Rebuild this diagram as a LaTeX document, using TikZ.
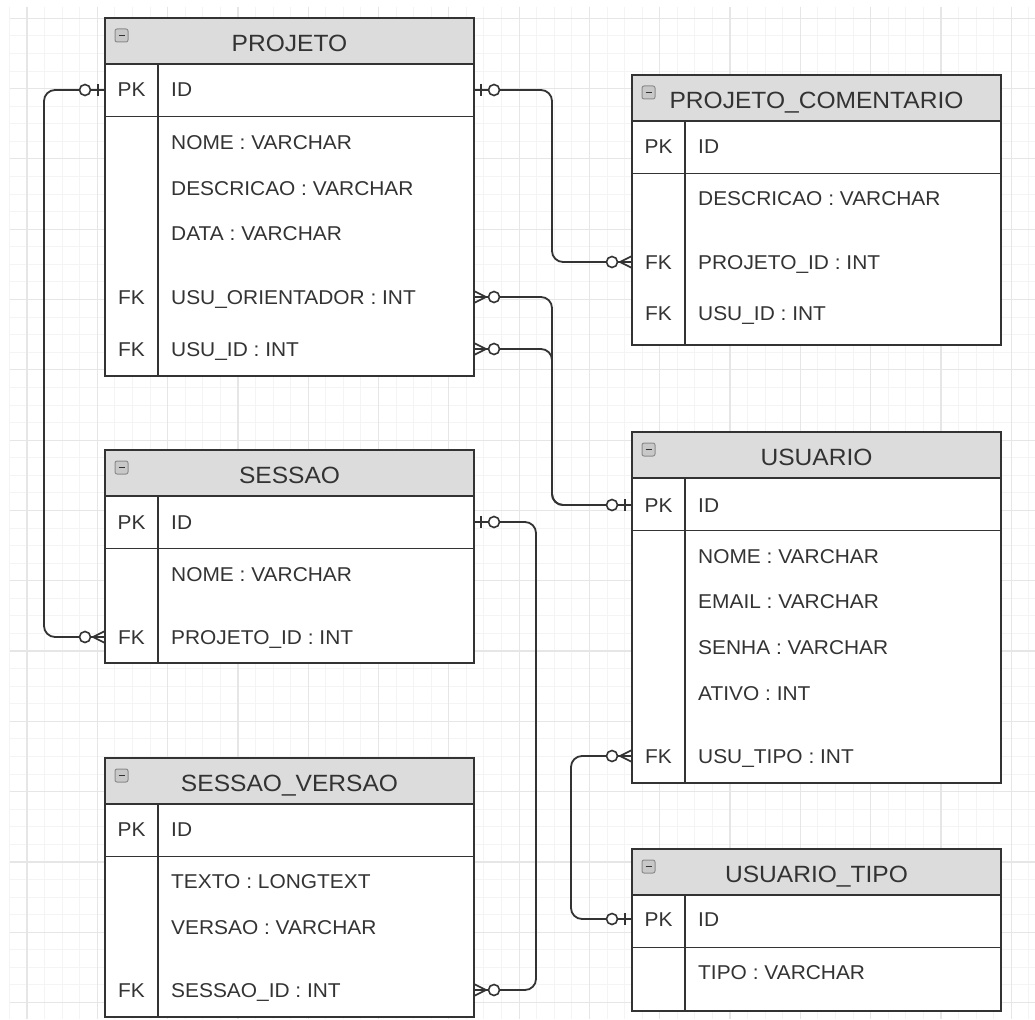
\documentclass[tikz,border=0pt]{standalone}
\usepackage{fontspec}
\setmainfont{Liberation Sans}[FakeStretch=1.045]
\usetikzlibrary{fit}

\definecolor{gridminor}{HTML}{F4F4F4}
\definecolor{gridmajor}{HTML}{E6E6E6}
\definecolor{hdrgray}{HTML}{DCDCDC}
\definecolor{ink}{HTML}{333333}
\definecolor{icongray}{HTML}{C8C8C8}
\definecolor{iconedge}{HTML}{8C8C8C}

\tikzset{
  minorline/.style={draw=gridminor, line width=0.9pt},
  majorline/.style={draw=gridmajor, line width=1.2pt},
  tabline/.style={draw=ink, line width=1.8pt},
  tabframe/.style={draw=ink, line width=2pt, inner sep=0pt},
  hdrtext/.style={text=ink, font=\fontsize{23.5}{26}\selectfont, anchor=base, inner sep=0pt},
  keytext/.style={text=ink, font=\fontsize{20}{24}\selectfont, anchor=base, inner sep=0pt},
  fieldtext/.style={text=ink, font=\fontsize{20}{24}\selectfont, anchor=base west, inner sep=0pt},
  iconbox/.style={draw=iconedge, fill=icongray, line width=1pt, rounded corners=2pt},
  icondash/.style={draw=ink, line width=1.6pt},
  conn/.style={draw=ink, line width=1.8pt, rounded corners=11pt},
  endline/.style={draw=ink, line width=1.6pt},
  % optional one: bar and circle
  zeroone/.pic={
    \draw[endline] (0,0) -- (15,0);
    \draw[endline] (7,-6) -- (7,6);
    \draw[endline, fill=white] (20,0) circle (5.5pt);
  },
  % optional many: crow's foot and circle
  zeromany/.pic={
    \draw[endline] (0,0) -- (15,0);
    \draw[endline] (0,-6) -- (12,0) -- (0,6);
    \draw[endline, fill=white] (20,0) circle (5.5pt);
  }
}

% entity box: name, left, top, bottom, title
\newcommand\ertable[5]{%
  \pgfmathsetmacro\erR{#2+369}%
  \pgfmathsetmacro\erH{#3+46}%
  \pgfmathsetmacro\erP{#3+98.5}%
  \pgfmathsetmacro\erK{#2+53}%
  \fill[white] (#2,#3) rectangle (\erR,#4);
  \fill[hdrgray] (#2,#3) rectangle (\erR,\erH);
  \draw[tabline] (#2,\erH) -- (\erR,\erH) (#2,\erP) -- (\erR,\erP) (\erK,\erH) -- (\erK,#4);
  \node[tabframe, fit={(#2,#3) (\erR,#4)}] (#1) {};
  \node[hdrtext] (#1-title) at ({#2+184.5},{#3+33.4}) {#5};
  \draw[iconbox] ({#2+10},{#3+11}) rectangle ++(13,13);
  \draw[icondash] ({#2+13.5},{#3+17.5}) -- ++(6,0);
}

% attribute row: name, table left, row centre, key, field
\newcommand\errow[5]{%
  \node[keytext] (#1-key) at ({#2+26.5},{#3+7}) {#4};
  \node[fieldtext] (#1) at ({#2+66},{#3+7}) {#5};
}

\begin{document}
\begin{tikzpicture}[x=1pt, y=-1pt]
\useasboundingbox (0,0) rectangle (1035,1019);
\fill[white] (0,0) rectangle (1035,1019);

% background grid
\foreach \i in {0,...,58} {\draw[minorline] ({9.4+17.575*\i},7) -- ({9.4+17.575*\i},1019);}
\foreach \j in {0,...,57} {\draw[minorline] (10,{18.3+17.575*\j}) -- (1035,{18.3+17.575*\j});}
\foreach \i in {0,...,14} {\draw[majorline] ({27+70.3*\i},7) -- ({27+70.3*\i},1019);}
\foreach \j in {0,...,14} {\draw[majorline] (10,{18.3+70.3*\j}) -- (1035,{18.3+70.3*\j});}

% entities
\ertable{proj}{105}{18}{376}{PROJETO}
\errow{proj-id}{105}{90}{PK}{ID}
\errow{proj-nome}{105}{143}{}{NOME : VARCHAR}
\errow{proj-desc}{105}{188}{}{DESCRICAO : VARCHAR}
\errow{proj-data}{105}{233}{}{DATA : VARCHAR}
\errow{proj-ori}{105}{297}{FK}{USU\_ORIENTADOR : INT}
\errow{proj-usu}{105}{349}{FK}{USU\_ID : INT}

\ertable{pcom}{632}{75}{345}{PROJETO\_COMENTARIO}
\errow{pcom-id}{632}{147}{PK}{ID}
\errow{pcom-desc}{632}{198}{}{DESCRICAO : VARCHAR}
\errow{pcom-pid}{632}{262}{FK}{PROJETO\_ID : INT}
\errow{pcom-usu}{632}{313}{FK}{USU\_ID : INT}

\ertable{ses}{105}{450}{663}{SESSAO}
\errow{ses-id}{105}{522}{PK}{ID}
\errow{ses-nome}{105}{574}{}{NOME : VARCHAR}
\errow{ses-pid}{105}{637}{FK}{PROJETO\_ID : INT}

\ertable{sver}{105}{758}{1017}{SESSAO\_VERSAO}
\errow{sver-id}{105}{829}{PK}{ID}
\errow{sver-texto}{105}{881}{}{TEXTO : LONGTEXT}
\errow{sver-versao}{105}{927}{}{VERSAO : VARCHAR}
\errow{sver-sid}{105}{990}{FK}{SESSAO\_ID : INT}

\ertable{usu}{632}{432}{783}{USUARIO}
\errow{usu-id}{632}{505}{PK}{ID}
\errow{usu-nome}{632}{556}{}{NOME : VARCHAR}
\errow{usu-email}{632}{601}{}{EMAIL : VARCHAR}
\errow{usu-senha}{632}{647}{}{SENHA : VARCHAR}
\errow{usu-ativo}{632}{693}{}{ATIVO : INT}
\errow{usu-tipo}{632}{756}{FK}{USU\_TIPO : INT}

\ertable{utip}{632}{849}{1011}{USUARIO\_TIPO}
\errow{utip-id}{632}{919}{PK}{ID}
\errow{utip-tipo}{632}{972}{}{TIPO : VARCHAR}

% connection ports
\coordinate (p-proj-id-w) at (105,90);
\coordinate (p-proj-id-e) at (474,90);
\coordinate (p-proj-ori) at (474,297);
\coordinate (p-proj-usu) at (474,349);
\coordinate (p-pcom-pid) at (632,262);
\coordinate (p-ses-pid) at (105,637);
\coordinate (p-ses-id) at (474,522);
\coordinate (p-sver-sid) at (474,990);
\coordinate (p-usu-id) at (632,505);
\coordinate (p-usu-tipo) at (632,756);
\coordinate (p-utip-id) at (632,919);

% relationships
\draw[conn] (p-proj-id-w) -- (44,90) -- (44,637) -- (p-ses-pid);
\draw[conn] (p-proj-id-e) -- (552,90) -- (552,262) -- (p-pcom-pid);
\draw[conn] (p-proj-ori) -- (552,297) -- (552,505) -- (p-usu-id);
\draw[conn] (p-proj-usu) -- (552,349) -- (552,505) -- (p-usu-id);
\draw[conn] (p-ses-id) -- (536,522) -- (536,990) -- (p-sver-sid);
\draw[conn] (p-usu-tipo) -- (571,756) -- (571,919) -- (p-utip-id);

% cardinality marks
\pic[xscale=-1] at (p-proj-id-w) {zeroone};
\pic[xscale=-1] at (p-ses-pid) {zeromany};
\pic at (p-proj-id-e) {zeroone};
\pic[xscale=-1] at (p-pcom-pid) {zeromany};
\pic at (p-proj-ori) {zeromany};
\pic at (p-proj-usu) {zeromany};
\pic[xscale=-1] at (p-usu-id) {zeroone};
\pic at (p-ses-id) {zeroone};
\pic at (p-sver-sid) {zeromany};
\pic[xscale=-1] at (p-usu-tipo) {zeromany};
\pic[xscale=-1] at (p-utip-id) {zeroone};
\end{tikzpicture}
\end{document}
